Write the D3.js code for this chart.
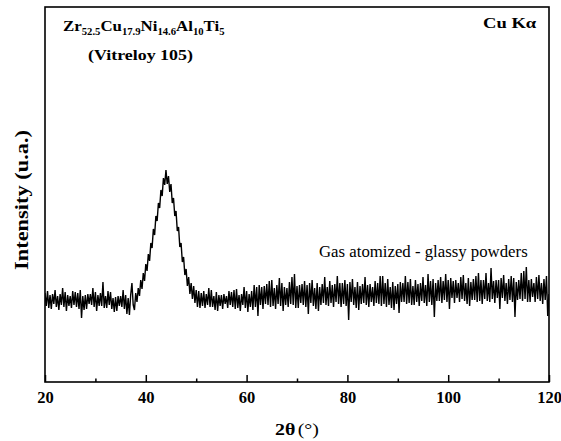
<!DOCTYPE html>
<html>
<head>
<meta charset="utf-8">
<script src="https://cdn.jsdelivr.net/npm/d3@7"></script>
<style>
  body { margin: 0; background: #fff; }
  svg { display: block; }
  text { font-family: "Liberation Serif", "Times New Roman", serif; fill: #000; }
</style>
</head>
<body>
<svg id="chart" width="561" height="441"></svg>
<script>
// ---- data ----
const thetaStart = 20;          // first 2θ sample (°)
const thetaStep = 0.25;         // sample spacing (°)
// intensity (arbitrary units), 4 samples per degree, 20° ... 120°
const intensity = [
  89,76,91,74, 87,73,88,78, 92,75,86,72, 88,77,94,75, 90,71,87,76,      // 20-24
  86,74,91,77, 90,75,89,73, 92,64,86,72, 87,73,88,78, 88,77,94,75,      // 25-29
  90,71,87,76, 89,76,100,74, 86,74,91,77, 90,73,84,70, 85,71,86,76,     // 30-34
  86,75,92,73, 87,68,84,67, 87,99,77,72, 89,80,94,86, 102,93,109,101,   // 35-39
  118,111,128,121, 139,134,153,147, 166,161,179,174, 192,186,204,197, 212,198,206,190, // 40-44
  198,179,184,166, 171,151,155,135, 139,120,125,107, 113,96,105,88, 99,83,96,79,       // 45-49
  92,75,91,74, 89,76,91,74, 88,77,94,75, 92,75,86,72, 90,71,87,76,      // 50-54
  87,73,88,78, 86,74,91,77, 90,75,92,73, 93,74,87,71, 88,77,95,74,      // 55-59
  91,70,88,75, 91,72,97,75, 95,66,97,77, 95,73,96,78, 98,77,101,75,     // 60-64
  102,76,94,73, 97,78,104,76, 99,71,95,77, 94,75,100,78, 105,77,108,74, // 65-69
  96,74,97,79, 98,77,101,75, 97,68,99,79, 102,76,94,73, 99,71,95,77,    // 70-74
  98,79,105,77, 95,76,101,79, 97,75,98,80, 106,78,99,75, 99,78,102,76,  // 75-79
  98,62,100,80, 103,77,95,74, 100,72,96,78, 98,79,105,77, 97,75,98,80,  // 80-84
  95,76,101,79, 99,78,106,76, 106,78,99,75, 103,77,95,74, 100,72,96,78, // 85-89
  98,69,100,80, 99,80,106,78, 100,79,103,77, 96,77,102,80, 98,76,99,81, // 90-94
  105,79,97,76, 108,80,101,77, 103,65,99,81, 102,81,105,79, 101,82,108,80, // 95-99
  102,73,104,84, 101,79,102,84, 99,80,105,83, 107,81,99,78, 104,76,100,82, // 100-104
  103,82,106,80, 109,81,102,78, 102,83,109,81, 99,80,114,83, 101,79,102,84, // 105-109
  102,73,104,84, 107,81,99,78, 103,82,106,80, 104,65,100,82, 102,83,109,81, // 110-114
  111,83,115,80, 102,80,103,85, 99,80,105,83, 107,81,99,78, 103,82,106,66,  // 115-119
  88                                                                        // 120
];
const xDomain = [20, 120];
const yDomain = [0, 375];
const xTicksMajor = [20, 40, 60, 80, 100, 120];
const xTicksMinor = [30, 50, 70, 90, 110];

// ---- layout ----
const svg = d3.select("#chart");
const m = { left: 45, top: 7, right: 12, bottom: 59 };
const W = 561 - m.left - m.right;
const H = 441 - m.top - m.bottom;
const g = svg.append("g").attr("transform", `translate(${m.left},${m.top})`);

const x = d3.scaleLinear().domain(xDomain).range([0, W]);
const y = d3.scaleLinear().domain(yDomain).range([H, 0]);

const data = intensity.map((v, i) => ({ t: thetaStart + i * thetaStep, v }));

g.append("defs").append("clipPath").attr("id", "clip")
  .append("rect").attr("width", W).attr("height", H);

g.append("path")
  .datum(data)
  .attr("clip-path", "url(#clip)")
  .attr("fill", "none")
  .attr("stroke", "#000")
  .attr("stroke-width", 1.4)
  .attr("stroke-linejoin", "miter")
  .attr("d", d3.line().x(d => x(d.t)).y(d => y(d.v)));

// axes
const ax = g.append("g").attr("transform", `translate(0,${H})`)
  .call(d3.axisBottom(x).tickValues(xTicksMajor).tickSize(-7).tickPadding(9).tickFormat(d3.format("d")));
ax.select(".domain").remove();
ax.selectAll("line").attr("stroke", "#000").attr("stroke-width", 1.5);
ax.selectAll("text").attr("font-size", 16.5).attr("font-weight", "bold").attr("dy", "0.71em");

const axm = g.append("g").attr("transform", `translate(0,${H})`)
  .call(d3.axisBottom(x).tickValues(xTicksMinor).tickSize(-3.5).tickFormat(""));
axm.select(".domain").remove();
axm.selectAll("line").attr("stroke", "#000").attr("stroke-width", 1.5);

// frame
g.append("rect").attr("width", W).attr("height", H)
  .attr("fill", "none").attr("stroke", "#000").attr("stroke-width", 1.6);

// stretch a text horizontally so it spans a given width starting at x0
function fitX(sel, x0, yb, target) {
  const w = sel.node().getBBox().width;
  sel.attr("x", 0).attr("y", 0)
    .attr("transform", `translate(${x0},${yb}) scale(${target / w},1)`);
}

// axis titles
const xt = svg.append("text").attr("text-anchor", "start");
xt.append("tspan").attr("font-size", 17).attr("font-weight", "bold").text("2θ");
xt.append("tspan").attr("font-size", 17).attr("dx", 2).text("(°)");
fitX(xt, 275, 435, 44);

svg.append("text")
  .attr("transform", `translate(28,200) rotate(-90)`)
  .attr("text-anchor", "middle").attr("font-size", 19.5).attr("font-weight", "bold")
  .attr("textLength", 140).attr("lengthAdjust", "spacingAndGlyphs")
  .text("Intensity (u.a.)");

// composition label
const comp = [["Zr", "52.5"], ["Cu", "17.9"], ["Ni", "14.6"], ["Al", "10"], ["Ti", "5"]];
const ct = svg.append("text").attr("font-weight", "bold").attr("font-size", 15);
comp.forEach(([el, sub], i) => {
  ct.append("tspan").attr("font-size", 15).attr("dy", i === 0 ? 0 : -4).text(el);
  ct.append("tspan").attr("font-size", 9.5).attr("dy", 4).text(sub);
});
fitX(ct, 63, 31, 162);

const vt = svg.append("text").attr("font-weight", "bold").attr("font-size", 15)
  .text("(Vitreloy 105)");
fitX(vt, 88, 60, 105);

const kt = svg.append("text").attr("font-weight", "bold").attr("font-size", 15).text("Cu Kα");
fitX(kt, 483, 28, 54);

const gt = svg.append("text").attr("font-size", 16.5).text("Gas atomized - glassy powders");
fitX(gt, 319, 257, 209);
</script>
</body>
</html>
